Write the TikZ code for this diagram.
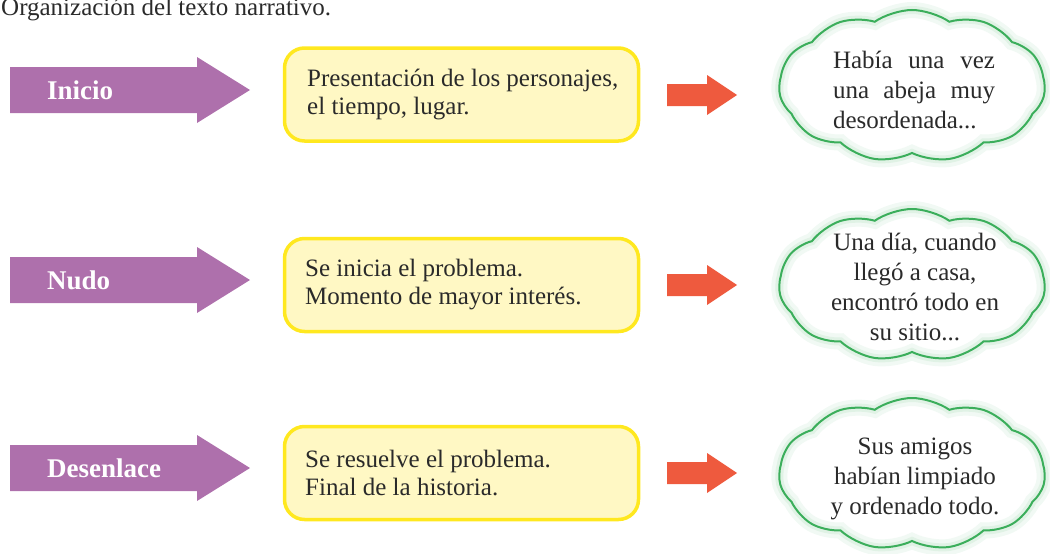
\documentclass[tikz,border=0pt]{standalone}
\usepackage{fontspec}
\setmainfont{Liberation Serif}
\usetikzlibrary{shapes.symbols}
\definecolor{purp}{HTML}{AE70AC}
\definecolor{yfill}{HTML}{FFF8C4}
\definecolor{yline}{HTML}{FFE81F}
\definecolor{redarr}{HTML}{EE5A3E}
\definecolor{cgreen}{HTML}{3BAE5B}
\definecolor{ink}{HTML}{2A2A2A}
\begin{document}
\begin{tikzpicture}[x=1pt,y=-1pt,
  every node/.style={font=\fontsize{25}{28}\selectfont, text=ink},
  ybox/.style={draw=yline, line width=3.5pt, fill=yfill, rounded corners=20pt,
    minimum width=354pt, minimum height=93pt, inner sep=0pt},
  btext/.style={anchor=west, align=left, inner sep=0pt},
  purparrow/.style={fill=purp, draw=none},
  redblock/.style={fill=redarr, draw=none},
  plabel/.style={anchor=west, inner sep=0pt, text=white, font=\fontsize{27}{30}\selectfont\bfseries},
  cloudbox/.style={cloud, cloud puffs=11, cloud puff arc=70, cloud ignores aspect,
    minimum width=266pt, minimum height=152pt, inner sep=0pt,
    draw=cgreen, line width=2pt,
    preaction={fill=white},
    preaction={draw=cgreen!7, line width=16pt},
    preaction={draw=cgreen!16, line width=8pt}},
  ctext/.style={align=center, inner sep=0pt, font=\fontsize{25}{30}\selectfont}
  ]
\useasboundingbox (0,0) rectangle (1050,554);

% title
\node[anchor=base west, inner sep=0pt] (title) at (1,16) {Organización del texto narrativo.};

% purple arrows
\fill[purparrow] (10,67) -- (197,67) -- (197,57) -- (250,90) -- (197,123) -- (197,113) -- (10,113) -- cycle;
\fill[purparrow] (10,257) -- (197,257) -- (197,247) -- (250,280) -- (197,313) -- (197,303) -- (10,303) -- cycle;
\fill[purparrow] (10,445) -- (197,445) -- (197,435) -- (250,468) -- (197,501) -- (197,491) -- (10,491) -- cycle;
\node[plabel] (l1) at (47,90) {Inicio};
\node[plabel] (l2) at (47,280) {Nudo};
\node[plabel] (l3) at (47,468) {Desenlace};

% yellow boxes
\node[ybox] (b1) at (461.5,94.5) {};
\node[ybox] (b2) at (461.5,285) {};
\node[ybox] (b3) at (461.5,473) {};
\node[btext] (t1) at (307,94.5) {Presentación de los personajes,\\el tiempo, lugar.};
\node[btext] (t2) at (305,285) {Se inicia el problema.\\Momento de mayor interés.};
\node[btext] (t3) at (305,473) {Se resuelve el problema.\\Final de la historia.};

% red arrows
\fill[redblock] (667,84) -- (707,84) -- (707,75) -- (737,95) -- (707,115) -- (707,106) -- (667,106) -- cycle;
\fill[redblock] (667,274) -- (707,274) -- (707,265) -- (737,285) -- (707,305) -- (707,296) -- (667,296) -- cycle;
\fill[redblock] (667,462) -- (707,462) -- (707,453) -- (737,473) -- (707,493) -- (707,484) -- (667,484) -- cycle;

% clouds
\node[cloudbox] (c1) at (912,86) {};
\node[cloudbox] (c2) at (912,285) {};
\node[cloudbox] (c3) at (912,474) {};
\node[ctext] (ct1) at (914,90) {\makebox[162pt][s]{Había una vez}\\\makebox[162pt][s]{una abeja muy}\\\makebox[162pt][l]{desordenada...}};
\node[ctext] (ct2) at (915,287) {Una día, cuando\\llegó a casa,\\encontró todo en\\su sitio...};
\node[ctext] (ct3) at (915,479) {Sus amigos\\habían limpiado\\y ordenado todo.};
\end{tikzpicture}
\end{document}
